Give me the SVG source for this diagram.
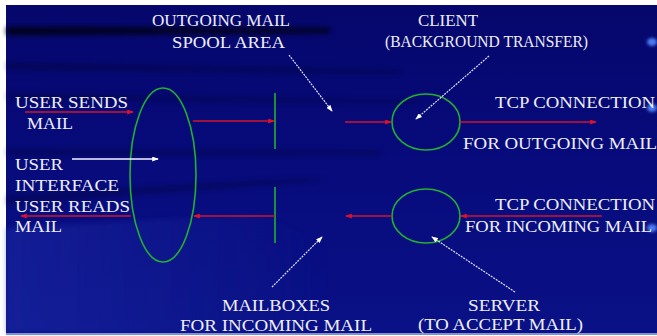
<svg xmlns="http://www.w3.org/2000/svg" width="657" height="336" viewBox="0 0 657 336">
<defs>
<linearGradient id="bg" x1="0" y1="0" x2="0" y2="1">
<stop offset="0" stop-color="#05076c"/>
<stop offset="0.5" stop-color="#070b7c"/>
<stop offset="1" stop-color="#0a1186"/>
</linearGradient>
<linearGradient id="lowleft" x1="0" y1="0" x2="1" y2="0">
<stop offset="0" stop-color="#2434b4" stop-opacity="0.8"/>
<stop offset="1" stop-color="#2434b4" stop-opacity="0"/>
</linearGradient>
<filter id="blur" x="-10%" y="-50%" width="120%" height="200%">
<feGaussianBlur stdDeviation="2.5"/>
</filter>
<filter id="blur2" x="-50%" y="-50%" width="200%" height="200%">
<feGaussianBlur stdDeviation="1.5"/>
</filter>
<marker id="rh" viewBox="0 0 8 6" refX="7" refY="3" markerWidth="7" markerHeight="5" markerUnits="userSpaceOnUse" orient="auto">
<path d="M0,0 L8,3 L0,6 Z" fill="#e0102a"/>
</marker>
<marker id="wh" viewBox="0 0 8 6" refX="7" refY="3" markerWidth="7" markerHeight="5" markerUnits="userSpaceOnUse" orient="auto">
<path d="M0,0 L8,3 L0,6 Z" fill="#ffffff"/>
</marker>
</defs>
<style>
.t{font-family:"Liberation Serif","Times New Roman",serif;font-size:16px;fill:#eeeff6;}
.red{stroke:#d0142a;stroke-width:1.6;fill:none;marker-end:url(#rh);}
.wht{stroke:#dfe2ff;stroke-width:1.2;fill:none;stroke-dasharray:2 1;marker-end:url(#wh);}
.ws{stroke:#f4f4ff;stroke-width:1.3;fill:none;marker-end:url(#wh);}
.grn{stroke:#22b030;stroke-width:1.6;fill:none;}
</style>
<rect width="657" height="336" fill="#ffffff"/>
<rect x="6" y="5" width="651" height="328" fill="url(#bg)"/>
<g id="background-streaks">
<polygon points="6,27 330,28 330,33 6,35" fill="#000008" opacity="0.85" filter="url(#blur)"/>
<polygon points="6,62 400,70 400,74 6,70" fill="#000020" opacity="0.3" filter="url(#blur)"/>
<polygon points="6,92 420,100 420,104 6,100" fill="#000020" opacity="0.25" filter="url(#blur)"/>
<polygon points="6,148 380,150 380,156 6,156" fill="#000020" opacity="0.25" filter="url(#blur)"/>
<polygon points="6,195 300,178 330,180 6,205" fill="#000020" opacity="0.3" filter="url(#blur)"/>
<polygon points="6,228 260,214 330,245 330,333 6,333" fill="url(#lowleft)" opacity="0.5" filter="url(#blur)"/>
<ellipse cx="652" cy="42" rx="5" ry="4" fill="#4a7af0" filter="url(#blur2)"/>
<ellipse cx="652" cy="108" rx="5" ry="4" fill="#4a7af0" filter="url(#blur2)"/>
<ellipse cx="652" cy="228" rx="5" ry="4" fill="#4a7af0" filter="url(#blur2)"/>
<rect x="6" y="333" width="651" height="2" fill="#8090d0"/>
</g>
<g id="user-interface">
<ellipse cx="163" cy="175" rx="33" ry="87" class="grn"/>
</g>
<g id="spool-area">
<line x1="275" y1="93" x2="275" y2="149" class="grn"/>
</g>
<g id="mailboxes">
<line x1="275" y1="187" x2="275" y2="243" class="grn"/>
</g>
<g id="client">
<ellipse cx="426" cy="122" rx="34" ry="28" class="grn"/>
</g>
<g id="server">
<ellipse cx="426" cy="216" rx="34" ry="27" class="grn"/>
</g>
<g id="connectors">
<line x1="25" y1="112" x2="133" y2="112" class="red"/>
<line x1="193" y1="121" x2="274" y2="121" class="red"/>
<line x1="345" y1="122" x2="391" y2="122" class="red"/>
<line x1="460" y1="122" x2="596" y2="122" class="red"/>
<line x1="602" y1="216" x2="461" y2="216" class="red"/>
<line x1="392" y1="216" x2="346" y2="216" class="red"/>
<line x1="275" y1="216" x2="194" y2="216" class="red"/>
<line x1="131" y1="216" x2="21" y2="216" class="red"/>
<line x1="72" y1="159" x2="158" y2="159" class="ws"/>
<line x1="289" y1="55" x2="332" y2="111" class="wht"/>
<line x1="489" y1="56" x2="416" y2="119" class="wht"/>
<line x1="272" y1="287" x2="322" y2="237" class="wht"/>
<line x1="515" y1="292" x2="432" y2="237" class="wht"/>
</g>
<g id="labels">
<text class="t" x="152" y="26" textLength="138" lengthAdjust="spacingAndGlyphs">OUTGOING MAIL</text>
<text class="t" x="172" y="48" textLength="113" lengthAdjust="spacingAndGlyphs">SPOOL AREA</text>
<text class="t" x="418" y="26" textLength="60" lengthAdjust="spacingAndGlyphs">CLIENT</text>
<text class="t" x="385" y="47" textLength="203" lengthAdjust="spacingAndGlyphs">(BACKGROUND TRANSFER)</text>
<text class="t" x="15" y="108" textLength="113" lengthAdjust="spacingAndGlyphs">USER SENDS</text>
<text class="t" x="27" y="129" textLength="46" lengthAdjust="spacingAndGlyphs">MAIL</text>
<text class="t" x="15" y="170" textLength="48" lengthAdjust="spacingAndGlyphs">USER</text>
<text class="t" x="15" y="191" textLength="104" lengthAdjust="spacingAndGlyphs">INTERFACE</text>
<text class="t" x="15" y="212" textLength="115" lengthAdjust="spacingAndGlyphs">USER READS</text>
<text class="t" x="15" y="232" textLength="47" lengthAdjust="spacingAndGlyphs">MAIL</text>
<text class="t" x="495" y="108" textLength="160" lengthAdjust="spacingAndGlyphs">TCP CONNECTION</text>
<text class="t" x="463" y="149" textLength="194" lengthAdjust="spacingAndGlyphs">FOR OUTGOING MAIL</text>
<text class="t" x="495" y="210" textLength="160" lengthAdjust="spacingAndGlyphs">TCP CONNECTION</text>
<text class="t" x="465" y="232" textLength="187" lengthAdjust="spacingAndGlyphs">FOR INCOMING MAIL</text>
<text class="t" x="222" y="311" textLength="108" lengthAdjust="spacingAndGlyphs">MAILBOXES</text>
<text class="t" x="180" y="331" textLength="192" lengthAdjust="spacingAndGlyphs">FOR INCOMING MAIL</text>
<text class="t" x="468" y="311" textLength="72" lengthAdjust="spacingAndGlyphs">SERVER</text>
<text class="t" x="418" y="330" textLength="165" lengthAdjust="spacingAndGlyphs">(TO ACCEPT MAIL)</text>
</g>
</svg>
